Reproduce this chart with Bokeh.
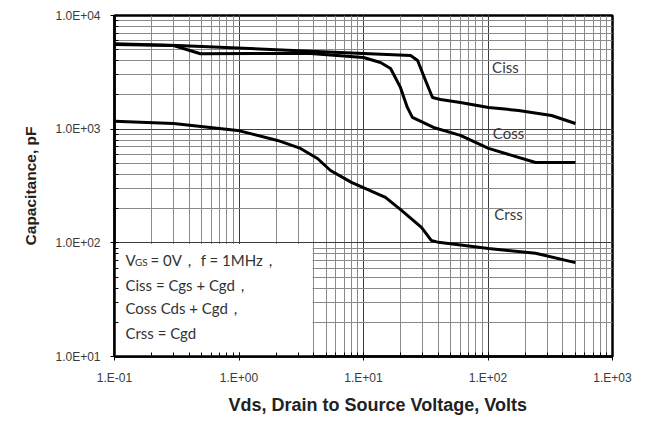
from bokeh.plotting import figure
from bokeh.models import Range1d, CustomJSTickFormatter, Label, Title
from bokeh.embed import file_html
from bokeh.resources import INLINE

# Data (Vds in volts, capacitance in pF)
ciss_v = [0.1, 0.321, 3.75, 10.0, 23.9, 27.2, 31.5, 35.8, 41.5, 60, 101, 176, 324, 504]
ciss_c = [5640, 5447, 4853, 4637, 4447, 4018, 2680, 1901, 1825, 1718, 1553, 1460, 1318, 1122]

coss_v = [0.1, 0.298, 0.49, 3.75, 10.0, 13.7, 16.5, 19.8, 22.5, 24.7, 36.5, 60, 101, 241, 504]
coss_c = [5557, 5447, 4606, 4637, 4276, 3863, 3420, 2329, 1553, 1268, 1035, 881, 677, 509, 509]

crss_v = [0.1, 0.298, 0.973, 2.04, 3.12, 4.27, 5.43, 8.0, 15, 20.2, 29.2, 35, 40, 101, 241, 504]
crss_c = [1175, 1122, 975, 796, 677, 552, 433, 340, 251, 193, 137, 105, 101, 89, 81, 67]

curve_names = ["Ciss", "Coss", "Crss"]
name_v = [138, 146, 146]
name_c = [3493, 917, 181]

note_lines = ["Ciss = Cgs + Cgd，", "Coss Cds + Cgd，", "Crss = Cgd"]

x_title = "Vds, Drain to Source Voltage, Volts"
y_title = "Capacitance, pF"

p = figure(width=648, height=421, x_axis_type="log", y_axis_type="log",
           x_range=Range1d(0.1, 1000), y_range=Range1d(10, 10000),
           output_backend="svg", toolbar_location=None,
           min_border_left=114, min_border_right=36,
           min_border_top=15, min_border_bottom=65)

p.background_fill_color = "white"
p.border_fill_color = "white"
p.outline_line_color = "black"
p.outline_line_width = 2.5

for ax in (p.xaxis[0], p.yaxis[0]):
    ax.axis_line_color = "black"
    ax.axis_line_width = 2.5
    ax.major_tick_out = 4
    ax.major_tick_in = 0
    ax.minor_tick_out = 0
    ax.minor_tick_in = 4
    ax.major_label_text_font = "Liberation Sans"
    ax.major_label_text_font_size = "12px"
    ax.major_label_text_color = "#3a3a3a"

p.xaxis.formatter = CustomJSTickFormatter(code="""
const e = Math.round(Math.log10(tick));
return "1.E" + (e < 0 ? "-" : "+") + String(Math.abs(e)).padStart(2, "0");
""")
p.yaxis.formatter = CustomJSTickFormatter(code="""
const e = Math.round(Math.log10(tick));
return "1.0E" + (e < 0 ? "-" : "+") + String(Math.abs(e)).padStart(2, "0");
""")
p.xaxis.major_label_standoff = 10
p.yaxis.major_label_standoff = 10

# Axis titles as Title annotations so they can be offset like the reference
p.add_layout(Title(text=x_title, align="left", offset=114, standoff=11,
                   text_font="Liberation Sans", text_font_style="bold",
                   text_font_size="18px", text_color="#222222"), "below")
p.add_layout(Title(text=y_title, align="center", offset=15, standoff=28,
                   text_font="Liberation Sans", text_font_style="bold",
                   text_font_size="15.5px", text_color="#222222"), "left")

p.xgrid.grid_line_color = "#3c3c3c"
p.ygrid.grid_line_color = "#3c3c3c"
p.xgrid.grid_line_width = 1
p.ygrid.grid_line_width = 1
p.xgrid.minor_grid_line_color = "#8a8a8a"
p.ygrid.minor_grid_line_color = "#8a8a8a"
p.xgrid.minor_grid_line_width = 1
p.ygrid.minor_grid_line_width = 1

# White note box over the grid (lower left)
p.quad(left=[0.1], right=[3.9], bottom=[10], top=[97.5],
       fill_color="white", line_color=None)

lw = 3
p.line(ciss_v, ciss_c, line_color="black", line_width=lw, line_join="round")
p.line(coss_v, coss_c, line_color="black", line_width=lw, line_join="round")
p.line(crss_v, crss_c, line_color="black", line_width=lw, line_join="round")

for name, xv, yv in zip(curve_names, name_v, name_c):
    p.add_layout(Label(x=xv, y=yv, text=name, text_font="Lato",
                       text_font_size="15px", text_color="#3a3a3a",
                       text_align="center", text_baseline="middle"))

# Note text
note_font = "Lato"
note_size = "15px"
note_color = "#333333"
p.add_layout(Label(x=0.1225, y=70.0, text="V", text_font=note_font,
                   text_font_size=note_size, text_color=note_color,
                   text_baseline="middle"))
p.add_layout(Label(x=0.146, y=68.5, text="GS", text_font=note_font,
                   text_font_size="10px", text_color=note_color,
                   text_baseline="middle"))
p.add_layout(Label(x=0.1945, y=70.0, text="= 0V，  f = 1MHz，", text_font=note_font,
                   text_font_size=note_size, text_color=note_color,
                   text_baseline="middle"))
for line, yv in zip(note_lines, [42.2, 26.5, 16.0]):
    p.add_layout(Label(x=0.1225, y=yv, text=line, text_font=note_font,
                       text_font_size=note_size, text_color=note_color,
                       text_baseline="middle"))

open("out.html", "w").write(file_html(p, INLINE))
